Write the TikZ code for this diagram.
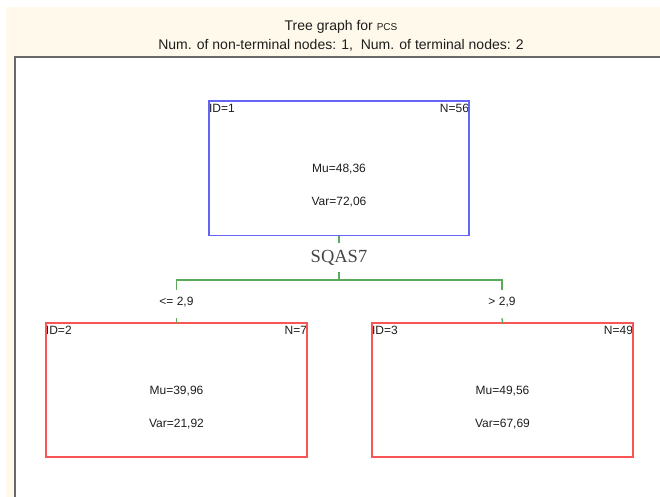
\documentclass[tikz,border=0pt]{standalone}
\usepackage{fontspec}
\setmainfont{Liberation Sans}
\newfontfamily\serifx{Liberation Serif}
\definecolor{cream}{RGB}{255,249,235}
\definecolor{framegray}{RGB}{105,105,105}
\definecolor{boxblue}{RGB}{100,100,245}
\definecolor{boxred}{RGB}{250,85,85}
\definecolor{linegreen}{RGB}{90,170,90}
\definecolor{txt}{RGB}{30,30,30}
\definecolor{splittxt}{RGB}{70,70,70}
\tikzset{
  treebox/.style={fill=white, minimum width=260bp, minimum height=134bp, inner sep=0pt},
  boxline/.style={draw=#1, line width=1.6bp},
  cornerlab/.style={font=\fontsize{12bp}{14bp}\selectfont, text=txt, inner sep=0pt},
  statlab/.style={font=\fontsize{12bp}{14bp}\selectfont, text=txt, inner sep=0pt, anchor=base},
  conn/.style={draw=linegreen, line width=1.3bp},
  splitlab/.style={font=\serifx\fontsize{18.5bp}{20bp}\selectfont, text=splittxt, anchor=base, text height=13bp, text depth=2bp, inner ysep=7bp, inner xsep=2bp},
  condlab/.style={font=\fontsize{12bp}{14bp}\selectfont, text=txt, anchor=base, text height=9bp, text depth=7bp, inner ysep=6bp, inner xsep=1bp},
  titlelab/.style={font=\fontsize{14bp}{16bp}\selectfont, text=txt, anchor=base, inner sep=0pt}
}
\begin{document}
\begin{tikzpicture}[x=1bp,y=-1bp]
\useasboundingbox (0,0) rectangle (660,497);
\fill[white] (0,0) rectangle (660,497);
\fill[cream] (6,7) rectangle (660,497);
\fill[white] (14.5,57) rectangle (660,497);
\draw[framegray, line width=2bp] (14.5,497) -- (14.5,57) -- (660,57);

\node[titlelab] (t1) at (341,31) {Tree graph for {\fontsize{10bp}{12bp}\selectfont PCS}};
\node[titlelab] (t2) at (341,50) {Num. of non-terminal nodes: 1,\ \ Num. of terminal nodes: 2};

% nodes
\node[treebox] (n1) at (339,168.5) {};
\node[treebox, minimum width=261bp, minimum height=133.5bp] (n2) at (176.5,390) {};
\node[treebox, minimum width=261bp, minimum height=133.5bp] (n3) at (502.5,390) {};

\node[cornerlab, anchor=base west] (id1) at ([yshift=-11.5bp]n1.north west) {ID=1};
\node[cornerlab, anchor=base east] (nn1) at ([yshift=-11.5bp]n1.north east) {N=56};
\node[statlab] (mu1) at (339,172.5) {Mu=48,36};
\node[statlab] (var1) at (339,206) {Var=72,06};

\node[cornerlab, anchor=base west] (id2) at ([yshift=-11.5bp]n2.north west) {ID=2};
\node[cornerlab, anchor=base east] (nn2) at ([yshift=-11.5bp]n2.north east) {N=7};
\node[statlab] (mu2) at (176.5,394) {Mu=39,96};
\node[statlab] (var2) at (176.5,427.5) {Var=21,92};

\node[cornerlab, anchor=base west] (id3) at ([yshift=-11.5bp]n3.north west) {ID=3};
\node[cornerlab, anchor=base east] (nn3) at ([yshift=-11.5bp]n3.north east) {N=49};
\node[statlab] (mu3) at (502.5,394) {Mu=49,56};
\node[statlab] (var3) at (502.5,427.5) {Var=67,69};

% box outlines
\draw[boxline=boxblue] (n1.north west) rectangle (n1.south east);
\draw[boxline=boxred] (n2.north west) rectangle (n2.south east);
\draw[boxline=boxred] (n3.north west) rectangle (n3.south east);

% split
\node[splitlab] (s7) at (339,263) {SQAS7};
\coordinate (sp) at (339,280);
\node[condlab] (c2) at (176.5,305) {<= 2,9};
\node[condlab] (c3) at (502,305) {> 2,9};

\draw[conn] (n1.south) -- (s7.north);
\draw[conn] (s7.south) -- (sp);
\draw[conn] (sp) -| (c2.north);
\draw[conn] (sp) -| (c3.north);
\draw[conn] (c2.south) -- (n2.north);
\draw[conn] (c3.south) -- (n3.north);
\end{tikzpicture}
\end{document}
